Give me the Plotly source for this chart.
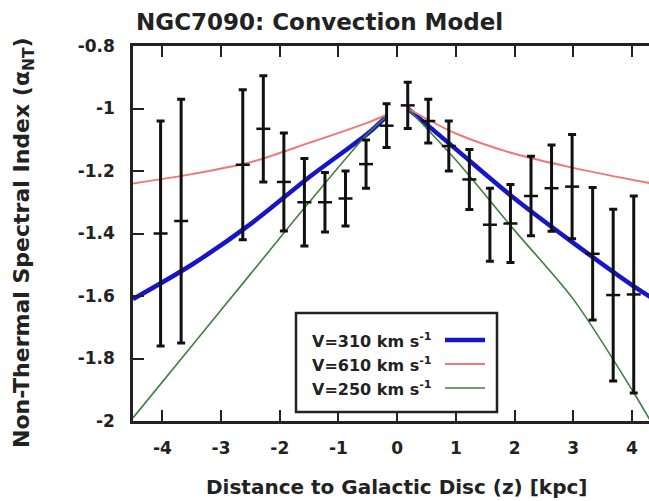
import plotly.graph_objects as go

# ---------------- data ----------------
z_data = [-4.03, -3.68, -2.63, -2.28, -1.93, -1.58, -1.23, -0.88, -0.53, -0.18,
          0.18, 0.53, 0.88, 1.23, 1.58, 1.93, 2.28, 2.63, 2.98, 3.33, 3.68, 4.03]
alpha_data = [-1.40, -1.36, -1.18, -1.065, -1.235, -1.30, -1.30, -1.288, -1.178, -1.055,
              -0.99, -1.04, -1.12, -1.227, -1.372, -1.368, -1.28, -1.255, -1.25, -1.465, -1.597, -1.595]
alpha_err = [0.36, 0.39, 0.24, 0.17, 0.157, 0.14, 0.095, 0.088, 0.077, 0.07,
             0.074, 0.07, 0.08, 0.096, 0.117, 0.125, 0.127, 0.138, 0.167, 0.212, 0.275, 0.315]

z_left = [-4.5, -3.5, -2.5, -1.5, -0.5, -0.18]
z_right = [0.18, 1.0, 2.0, 3.0, 4.0, 4.5]
blue_left = [-1.61, -1.50, -1.37, -1.22, -1.08, -1.025]
blue_right = [-1.0, -1.13, -1.288, -1.43, -1.565, -1.625]
red_left = [-1.24, -1.21, -1.172, -1.11, -1.045, -1.02]
red_right = [-1.0, -1.08, -1.145, -1.19, -1.228, -1.245]
green_left = [-1.99, -1.76, -1.53, -1.30, -1.08, -1.025]
green_right = [-1.0, -1.165, -1.39, -1.61, -1.90, -2.06]

model_names = ["V=310 km s<sup>-1</sup>", "V=610 km s<sup>-1</sup>", "V=250 km s<sup>-1</sup>"]
model_colors = ["#1616c8", "#f07878", "#3f7f3f"]
model_widths = [4.5, 2, 1.6]

x_ticks = [-4, -3, -2, -1, 0, 1, 2, 3, 4]
x_ticktext = ["-4", "-3", "-2", "-1", "0", "1", "2", "3", "4"]
y_ticks = [-2, -1.8, -1.6, -1.4, -1.2, -1, -0.8]
y_ticktext = ["-2", "-1.8", "-1.6", "-1.4", "-1.2", "-1", "-0.8"]

title_text = "NGC7090: Convection Model"
x_title = "Distance to Galactic Disc (z) [kpc]"
y_title = "Non-Thermal Spectral Index (α<sub>NT</sub>)"

# ---------------- layout geometry ----------------
W, H = 649, 501
ML, MR, MT, MB = 133, 0, 46, 80
PW, PH = W - ML - MR, H - MT - MB


def px(xp):
    return (xp - ML) / PW


def py(yp):
    return (H - MB - yp) / PH


FONT = "DejaVu Sans"
TXT = "#222222"

fig = go.Figure()

models = [(blue_left, blue_right), (red_left, red_right), (green_left, green_right)]
for (lft, rgt), col, w in zip(models, model_colors, model_widths):
    for zz, aa in ((z_left, lft), (z_right, rgt)):
        fig.add_trace(go.Scatter(x=zz, y=aa, mode="lines",
                                 line=dict(color=col, width=w, shape="spline", smoothing=0.8),
                                 showlegend=False, hoverinfo="skip"))

fig.add_trace(go.Scatter(
    x=z_data, y=alpha_data, mode="markers",
    marker=dict(symbol="line-ew", size=10, line=dict(color="#111111", width=2.5)),
    error_y=dict(type="data", array=alpha_err, visible=True, color="#111111",
                 thickness=3, width=4),
    showlegend=False))

fig.update_layout(
    width=W, height=H,
    margin=dict(l=ML, r=MR, t=MT, b=MB, pad=0),
    paper_bgcolor="white", plot_bgcolor="white",
    font=dict(family=FONT, color=TXT, size=17),
    xaxis=dict(range=[-4.5, 4.29], tickvals=x_ticks, ticktext=x_ticktext,
               showgrid=False, zeroline=False, showline=True, linecolor="#222",
               linewidth=2.5, mirror="ticks", ticks="inside", ticklen=11,
               tickwidth=2, tickcolor="#222", ticklabelstandoff=10,
               tickfont=dict(family=FONT, size=17, weight="bold", color=TXT)),
    yaxis=dict(range=[-2, -0.8], tickvals=y_ticks, ticktext=y_ticktext,
               showgrid=False, zeroline=False, showline=True, linecolor="#222",
               linewidth=2.5, mirror=False, ticks="inside", ticklen=11,
               tickwidth=2, tickcolor="#222", ticklabelstandoff=12,
               tickfont=dict(family=FONT, size=17, weight="bold", color=TXT)),
)

annotations = [
    dict(text=title_text, xref="paper", yref="paper", x=px(134), y=py(22),
         xanchor="left", yanchor="middle", showarrow=False,
         font=dict(family=FONT, size=23, weight="bold", color=TXT)),
    dict(text=x_title, xref="paper", yref="paper", x=px(396), y=py(487),
         xanchor="center", yanchor="middle", showarrow=False,
         font=dict(family=FONT, size=20, weight="bold", color=TXT)),
    dict(text=y_title, xref="paper", yref="paper", x=px(23), y=py(243),
         xanchor="center", yanchor="middle", showarrow=False, textangle=-90,
         font=dict(family=FONT, size=22, weight="bold", color=TXT)),
]

shapes = [dict(type="rect", xref="paper", yref="paper", x0=px(296), x1=px(497),
               y0=py(412), y1=py(313), line=dict(color="#222", width=2.5),
               fillcolor="white", layer="above")]

rows = [340, 364, 388]
for name, col, w, r in zip(model_names, model_colors, model_widths, rows):
    annotations.append(dict(text=name, xref="paper", yref="paper", x=px(434), y=py(r),
                            xanchor="right", yanchor="middle", showarrow=False,
                            font=dict(family=FONT, size=16, weight="bold", color=TXT)))
    shapes.append(dict(type="line", xref="paper", yref="paper", x0=px(445), x1=px(485),
                       y0=py(r), y1=py(r), line=dict(color=col, width=w), layer="above"))

fig.update_layout(annotations=annotations, shapes=shapes)

fig.write_html("out.html")
